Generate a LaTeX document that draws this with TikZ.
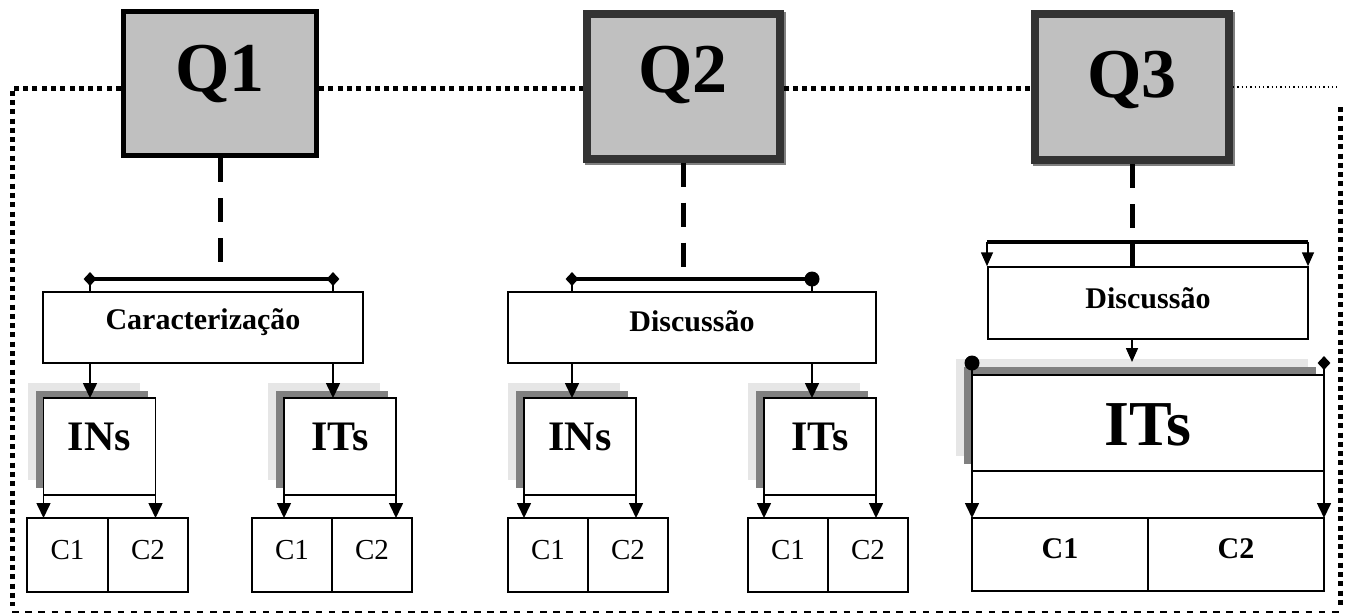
\documentclass[tikz,border=0pt]{standalone}
\usepackage{fontspec}
\setmainfont{Liberation Serif}
\usetikzlibrary{arrows.meta,shapes.geometric,calc}
\definecolor{qgray}{HTML}{C0C0C0}
\definecolor{qborder}{HTML}{333333}
\definecolor{shdark}{HTML}{808080}
\definecolor{shlight}{HTML}{E6E6E6}
\begin{document}
\begin{tikzpicture}[x=1pt,y=-1pt,
  qbox/.style={draw, fill=qgray, minimum width=193pt, minimum height=145pt, inner sep=0pt,
    text height=49pt, font=\fontsize{70}{74}\selectfont\bfseries},
  tbox/.style={draw, fill=white, line width=1.5pt, minimum height=71pt, inner sep=0pt,
    text height=21pt, font=\fontsize{30}{34}\selectfont\bfseries},
  sh/.style={preaction={fill=shlight, draw=none, transform canvas={shift={(-16pt,15pt)}}},
             preaction={fill=shdark, draw=none, transform canvas={shift={(-8pt,7pt)}}}},
  ibox/.style={sh, draw, fill=white, line width=1.5pt, minimum width=112pt, minimum height=97pt,
    inner sep=0pt, outer sep=0pt, text height=28pt, text depth=21pt,
    font=\fontsize{42}{46}\selectfont\bfseries},
  cbox/.style={draw, line width=1.5pt, minimum width=80pt, minimum height=74pt, inner sep=0pt,
    outer sep=0pt, text height=20pt, text depth=12pt, font=\fontsize{29}{32}\selectfont},
  vdash/.style={line width=5pt, dash pattern=on 24pt off 16pt},
  bar/.style={line width=4pt},
  thinline/.style={line width=1.5pt},
  arr/.style={line width=1.6pt, -{Triangle[length=15pt,width=14pt]}},
  sarr/.style={line width=1.6pt, -{Triangle[length=14pt,width=12pt]}},
  dia/.style={diamond, aspect=1, fill=black, inner sep=0pt, minimum width=13pt, minimum height=14pt},
  dot/.style={circle, fill=black, inner sep=0pt, minimum size=15pt},
  dotline/.style={line width=5pt, dash pattern=on 5pt off 4.3pt},
  fineline/.style={line width=1.2pt, dash pattern=on 1.3pt off 3pt},
  dashline/.style={line width=2pt, dash pattern=on 6.5pt off 6.7pt}
]
\useasboundingbox (0,0) rectangle (1347,614);

% ---------- Q boxes ----------
\node[qbox, line width=5pt, minimum height=144pt, text depth=34pt] (q1) at (220,83.5) {Q1};
\fill[shdark] (585,12) rectangle (786,165);
\node[qbox, draw=qborder, line width=8pt, text depth=37pt] (q2) at (683,86) {Q2};
\fill[shdark] (1033,12) rectangle (1235,166);
\node[qbox, draw=qborder, line width=8pt, minimum width=194pt, minimum height=146pt, text depth=29pt] (q3) at (1132,87) {Q3};

% ---------- outer border ----------
\coordinate (tl) at (12,88);
\coordinate (bl) at (12,612);
\coordinate (br) at (1340,612);
\coordinate (tr) at (1340,107);
\coordinate (trt) at (1337,87);
\draw[dotline] (q1.west |- tl) -- (tl) -- (12,606);
\draw[dotline] (q1.east |- tl) -- (q2.west |- tl);
\draw[dotline] (q2.east |- tl) -- (q3.west |- tl);
\draw[fineline] (q3.east |- trt) -- (trt);
\draw[dotline] (tr) -- (1340,605);
\draw[dashline] (bl) -- (br);

% ---------- Q1 group ----------
\node[tbox, minimum width=320pt, text depth=18pt] (cara) at (203,327.5) {Caracterização};
\node[ibox] (ins1) at (99.5,446.5) {INs};
\node[ibox] (its1) at (340,446.5) {ITs};
\node[cbox, minimum width=81pt] (c111) at (67.5,555) {C1};
\node[cbox] (c112) at (148,555) {C2};
\node[cbox] (c121) at (292,555) {C1};
\node[cbox] (c122) at (372,555) {C2};
\coordinate (b1l) at (90,279);
\coordinate (b1r) at (333,279);
\draw[vdash] (q1.south) -- (q1.south |- b1l);
\draw[bar] (b1l) -- (b1r);
\node[dia] (d1l) at (b1l) {};
\node[dia] (d1r) at (b1r) {};
\draw[thinline] (b1l) -- (b1l |- cara.north);
\draw[thinline] (b1r) -- (b1r |- cara.north);
\draw[arr] (cara.south -| b1l) -- (ins1.north -| b1l);
\draw[arr] (cara.south -| b1r) -- (its1.north -| b1r);
\draw[arr] (ins1.south west) -- (c111.north -| ins1.south west);
\draw[arr] (ins1.south east) -- (c112.north -| ins1.south east);
\draw[arr] (its1.south west) -- (c121.north -| its1.south west);
\draw[arr] (its1.south east) -- (c122.north -| its1.south east);

% ---------- Q2 group ----------
\node[tbox, minimum width=368pt, text depth=14pt] (disc2) at (692,327.5) {Discussão};
\node[ibox] (ins2) at (580,446.5) {INs};
\node[ibox] (its2) at (820,446.5) {ITs};
\node[cbox] (c211) at (548,555) {C1};
\node[cbox] (c212) at (628,555) {C2};
\node[cbox] (c221) at (788,555) {C1};
\node[cbox] (c222) at (868,555) {C2};
\coordinate (b2l) at (572,279);
\coordinate (b2r) at (812,279);
\draw[vdash] (q2.south) -- (q2.south |- b2l);
\draw[bar] (b2l) -- (b2r);
\node[dia] (d2l) at (b2l) {};
\node[dot] (d2r) at (b2r) {};
\draw[thinline] (b2l) -- (b2l |- disc2.north);
\draw[thinline] (b2r) -- (b2r |- disc2.north);
\draw[arr] (disc2.south -| b2l) -- (ins2.north -| b2l);
\draw[arr] (disc2.south -| b2r) -- (its2.north -| b2r);
\draw[arr] (ins2.south west) -- (c211.north -| ins2.south west);
\draw[arr] (ins2.south east) -- (c212.north -| ins2.south east);
\draw[arr] (its2.south west) -- (c221.north -| its2.south west);
\draw[arr] (its2.south east) -- (c222.north -| its2.south east);

% ---------- Q3 group ----------
\node[tbox, minimum width=320pt, minimum height=72pt, text depth=11pt] (disc3) at (1148,303) {Discussão};
\node[ibox, minimum width=352pt, minimum height=96pt, text height=45pt, text depth=0pt,
      font=\fontsize{64}{68}\selectfont\bfseries,
      preaction={fill=shlight, draw=none, transform canvas={shift={(-16pt,16pt)}}},
      preaction={fill=shdark, draw=none, transform canvas={shift={(-8pt,8pt)}}}] (its3) at (1148,423) {ITs};
\node[cbox, minimum width=176pt, minimum height=73pt, font=\fontsize{30}{32}\selectfont\bfseries] (c31) at (1060,554.5) {C1};
\node[cbox, minimum width=176pt, minimum height=73pt, font=\fontsize{30}{32}\selectfont\bfseries] (c32) at (1236,554.5) {C2};
\coordinate (b3l) at (987,242);
\coordinate (b3r) at (1308,242);
\coordinate (a3) at (1132,362);
\draw[vdash] (q3.south) -- (disc3.north -| q3.south);
\draw[bar] (b3l) -- (b3r);
\draw[sarr] (b3l) -- (b3l |- disc3.north);
\draw[sarr] (b3r) -- (b3r |- disc3.north);
\draw[sarr] (disc3.south -| q3.south) -- (a3);
\node[dot] (d3l) at (972,363) {};
\node[dia] (d3r) at (1324,363) {};
\draw[arr] (d3l.center) -- (c31.north west);
\draw[arr] (d3r.center) -- (c32.north east);
\end{tikzpicture}
\end{document}
